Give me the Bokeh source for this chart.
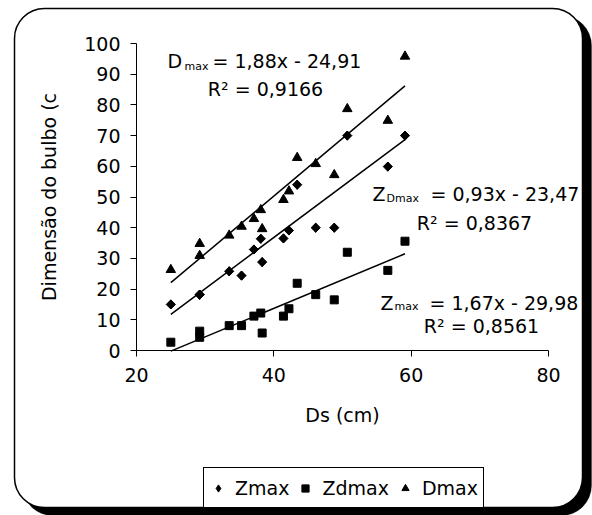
import numpy as np
from bokeh.plotting import figure
from bokeh.models import Range1d, Label, Legend, LegendItem, BoxAnnotation, FixedTicker
from bokeh.embed import file_html
from bokeh.resources import INLINE

# ---------------- data ----------------
ds = [25.0, 29.2, 29.2, 33.5, 35.3, 37.1, 38.1, 38.3, 41.4, 42.2, 43.4, 46.1, 48.8, 50.7, 56.6, 59.1]
zmax = [15.0, 18.2, 18.2, 25.8, 24.4, 32.9, 36.4, 28.8, 36.5, 39.1, 54.0, 40.0, 40.0, 70.0, 59.9, 70.0]
zdmax = [2.7, 6.3, 4.3, 8.1, 8.1, 11.2, 12.2, 5.7, 11.2, 13.6, 21.9, 18.2, 16.5, 32.0, 26.1, 35.6]
dmax = [26.3, 34.8, 30.9, 37.5, 40.4, 42.9, 45.8, 39.6, 49.1, 51.9, 62.8, 60.8, 57.2, 78.7, 74.9, 95.8]

series_names = ["Zmax", "Zdmax", "Dmax"]
trend_slopes = {"Zmax": 1.67, "Zdmax": 0.93, "Dmax": 1.88}
trend_intercepts = {"Zmax": -29.98, "Zdmax": -23.47, "Dmax": -24.91}

x_ticks = [20, 40, 60, 80]
y_ticks = [0, 10, 20, 30, 40, 50, 60, 70, 80, 90, 100]

FONT = "DejaVu Sans"

# geometry (pixels) of the value area inside the 592x515 canvas
W, H = 592, 515
FL, FR, FT, FB = 136, 548, 43, 350
X0, X1, Y0, Y1 = 20, 80, 0, 100


def dx(px):
    return X0 + (px - FL) * (X1 - X0) / (FR - FL)


def dy(py):
    return Y0 + (FB - py) * (Y1 - Y0) / (FB - FT)


p = figure(width=W, height=H, output_backend="svg", toolbar_location=None,
           x_range=Range1d(dx(0), dx(W)), y_range=Range1d(dy(H), dy(0)),
           min_border=0, min_border_left=0, min_border_right=0,
           min_border_top=0, min_border_bottom=0,
           background_fill_color="white", border_fill_color="white",
           outline_line_color=None)
p.xgrid.visible = False
p.ygrid.visible = False

# rounded frame with shadow
shadow = BoxAnnotation(left=dx(22), right=dx(591), top=dy(15), bottom=dy(515),
                       fill_color="black", fill_alpha=1, line_color="black",
                       line_width=1, border_radius=30, level="underlay")
card = BoxAnnotation(left=dx(14), right=dx(582), top=dy(8), bottom=dy(507),
                     fill_color="white", fill_alpha=1, line_color="black",
                     line_width=1.5, line_alpha=1, border_radius=30, level="underlay")
p.add_layout(shadow)
p.add_layout(card)

# axes (fixed inside the canvas-wide frame)
for ax in (p.xaxis[0], p.yaxis[0]):
    ax.axis_line_color = "black"
    ax.axis_line_width = 1
    ax.major_tick_line_color = "black"
    ax.major_tick_out = 6
    ax.major_tick_in = 0
    ax.minor_tick_out = 0
    ax.minor_tick_in = 0
    ax.major_label_text_font = FONT
    ax.major_label_text_font_size = "19px"
    ax.major_label_text_color = "black"
    ax.axis_label_text_font = FONT
    ax.axis_label_text_font_size = "19px"
    ax.axis_label_text_font_style = "normal"
    ax.axis_label_text_color = "black"
p.xaxis.ticker = FixedTicker(ticks=x_ticks)
p.yaxis.ticker = FixedTicker(ticks=y_ticks)
p.xaxis.bounds = (X0, X1)
p.yaxis.bounds = (Y0, Y1)
p.xaxis.fixed_location = Y0
p.yaxis.fixed_location = X0
p.xaxis.axis_label = "Ds (cm)"
p.yaxis.axis_label = "Dimensão do bulbo (c"
p.xaxis.major_label_standoff = 11
p.yaxis.major_label_standoff = 10
p.xaxis.axis_label_standoff = 19
p.yaxis.axis_label_standoff = 21

# trend lines
for name in series_names:
    xs = [min(ds), max(ds)]
    ys = [trend_slopes[name] * x + trend_intercepts[name] for x in xs]
    p.line(xs, ys, line_color="black", line_width=1.5)

# scatter series
r_z_leg = p.scatter(ds, zmax, marker="diamond", size=9,
                    fill_color="black", line_color="black")
r_z = p.scatter(ds, zmax, marker="square", angle=np.pi / 4, size=6.5,
                fill_color="black", line_color="black")
r_zd = p.scatter(ds, zdmax, marker="square", size=8,
                 fill_color="black", line_color="black")
r_d = p.scatter(ds, dmax, marker="triangle", size=9.5,
                fill_color="black", line_color="black")

legend = Legend(items=[LegendItem(label="Zmax", renderers=[r_z_leg]),
                       LegendItem(label="Zdmax", renderers=[r_zd]),
                       LegendItem(label="Dmax", renderers=[r_d])],
                orientation="horizontal", location=(203, H - 508),
                border_line_color="black", border_line_width=1, border_line_alpha=1,
                background_fill_color="white", background_fill_alpha=1,
                padding=5, spacing=7, label_standoff=8, margin=0,
                glyph_width=18, glyph_height=18, label_height=29,
                label_text_font=FONT, label_text_font_size="19px",
                label_text_color="black")
p.add_layout(legend)


def lab(px, py, text, size="19px", align="left"):
    p.add_layout(Label(x=dx(px), y=dy(py), text=text, text_font=FONT,
                       text_font_size=size, text_color="black",
                       text_align=align, text_baseline="alphabetic"))


# equation: Dmax
lab(167, 60.5, "D")
lab(184, 66, "max", size="11px")
lab(212, 60.5, "= 1,88x - 24,91")
lab(265, 88, "R² = 0,9166", align="center")
# equation: ZDmax
lab(372, 193, "Z")
lab(386, 198, "Dmax", size="11px")
lab(430, 193, "= 0,93x - 23,47")
lab(474, 222, "R² = 0,8367", align="center")
# equation: Zmax
lab(380, 302, "Z")
lab(394, 306, "max", size="11px")
lab(429, 302, "= 1,67x - 29,98")
lab(481, 325, "R² = 0,8561", align="center")

open("out.html", "w").write(file_html(p, INLINE))
